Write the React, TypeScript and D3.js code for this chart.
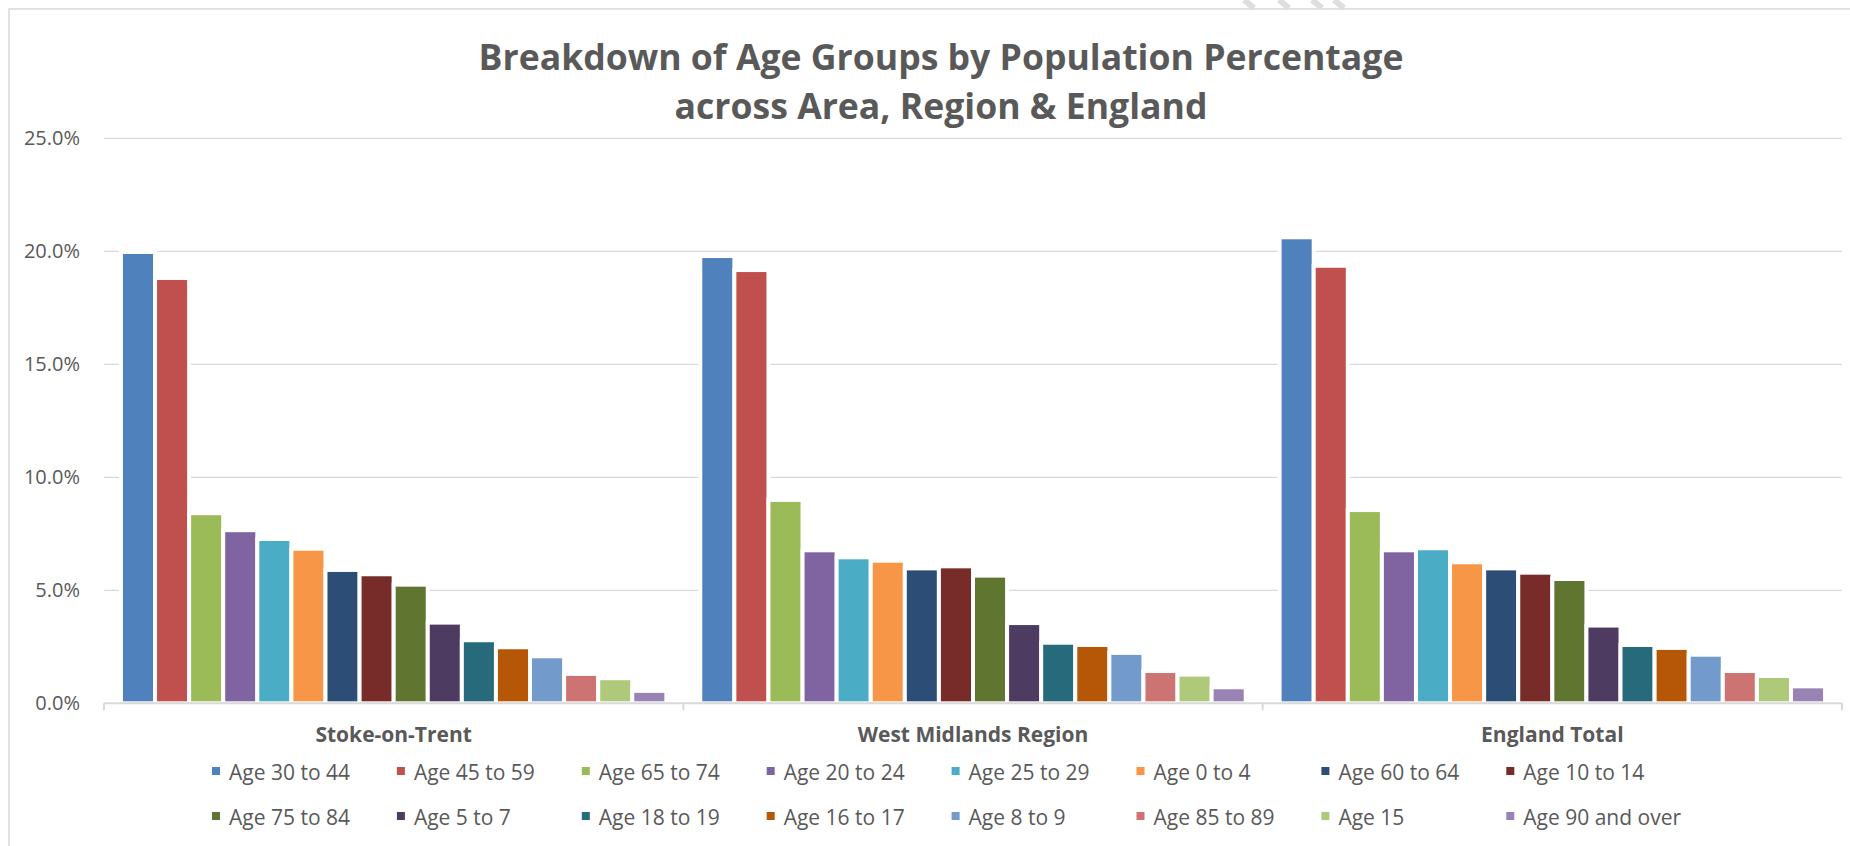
import { useRef, useEffect } from 'react';
import * as d3 from 'd3';

const FONT = '"Open Sans", "DejaVu Sans", sans-serif';
const TEXT = '#595959';
const GRID = '#d9d9d9';

const TITLE_LINES = [
  'Breakdown of Age Groups by Population Percentage',
  'across Area, Region & England',
];

const AREAS = ['Stoke-on-Trent', 'West Midlands Region', 'England Total'];

const SERIES = [
  'Age 30 to 44', 'Age 45 to 59', 'Age 65 to 74', 'Age 20 to 24',
  'Age 25 to 29', 'Age 0 to 4', 'Age 60 to 64', 'Age 10 to 14',
  'Age 75 to 84', 'Age 5 to 7', 'Age 18 to 19', 'Age 16 to 17',
  'Age 8 to 9', 'Age 85 to 89', 'Age 15', 'Age 90 and over',
];

const COLORS = [
  '#4f81bd', '#c0504d', '#9bbb59', '#8064a2',
  '#4bacc6', '#f79646', '#2c4d75', '#772c2a',
  '#5f7530', '#4d3b62', '#276a7c', '#b65708',
  '#729aca', '#cd7371', '#afc97a', '#9983b5',
];

// percent of population, one value per series (same order as SERIES)
const STOKE = [19.97, 18.82, 8.41, 7.66, 7.27, 6.84, 5.90, 5.71, 5.25, 3.57, 2.79, 2.48, 2.08, 1.30, 1.11, 0.55];
const WEST_MIDLANDS = [19.79, 19.17, 9.00, 6.77, 6.46, 6.31, 5.97, 6.06, 5.65, 3.55, 2.68, 2.58, 2.23, 1.43, 1.27, 0.71];
const ENGLAND = [20.62, 19.36, 8.55, 6.77, 6.86, 6.24, 5.97, 5.78, 5.50, 3.44, 2.58, 2.45, 2.15, 1.43, 1.21, 0.75];

const Y_TICKS = [0, 5, 10, 15, 20, 25];

export default function App() {
  const svgRef = useRef<SVGSVGElement>(null);

  useEffect(() => {
    document.body.style.margin = '0';
    const W = 1850;
    const H = 846;
    const svg = d3.select(svgRef.current);
    svg.selectAll('*').remove();
    svg.attr('width', W).attr('height', H);

    const values = [STOKE, WEST_MIDLANDS, ENGLAND];
    const plot = { left: 104, right: 1842, top: 138.3, bottom: 703.3 };

    // chart frame
    svg.append('rect')
      .attr('x', 9).attr('y', 9)
      .attr('width', W).attr('height', H)
      .attr('fill', '#fff')
      .attr('stroke', GRID).attr('stroke-width', 1.5);

    // faint watermark tips above the frame
    [1250, 1285, 1318, 1340].forEach(x => {
      svg.append('line')
        .attr('x1', x - 6).attr('y1', 0).attr('x2', x + 4).attr('y2', 8)
        .attr('stroke', '#dedede').attr('stroke-width', 6);
    });

    // title
    TITLE_LINES.forEach((t, i) => {
      svg.append('text')
        .attr('x', 941).attr('y', 70 + i * 49)
        .attr('text-anchor', 'middle')
        .attr('font-family', FONT)
        .attr('font-weight', 700)
        .attr('font-size', 35.6)
        .attr('fill', TEXT)
        .text(t);
    });

    const y = d3.scaleLinear().domain([0, 25]).range([plot.bottom, plot.top]);
    const x0 = d3.scaleBand().domain(AREAS).range([plot.left, plot.right]);
    const x1 = d3.scaleBand().domain(SERIES).range([0, x0.bandwidth()])
      .paddingInner(0).paddingOuter(0.497);

    // gridlines
    svg.append('g')
      .selectAll('line')
      .data(Y_TICKS.filter(d => d > 0))
      .join('line')
      .attr('x1', plot.left).attr('x2', plot.right)
      .attr('y1', d => y(d)).attr('y2', d => y(d))
      .attr('stroke', GRID).attr('stroke-width', 1.3);

    // y labels
    svg.append('g')
      .selectAll('text')
      .data(Y_TICKS)
      .join('text')
      .attr('x', 80)
      .attr('y', d => y(d))
      .attr('dy', '0.35em')
      .attr('text-anchor', 'end')
      .attr('font-family', FONT)
      .attr('font-size', 20)
      .attr('fill', TEXT)
      .text(d => d.toFixed(1) + '%');

    // bars
    AREAS.forEach((area, ai) => {
      const g = svg.append('g').attr('transform', `translate(${x0(area)},0)`);
      g.selectAll('rect')
        .data(SERIES.map((s, i) => ({ s, v: values[ai][i], c: COLORS[i] })))
        .join('rect')
        .attr('x', d => x1(d.s)!)
        .attr('y', d => y(d.v))
        .attr('width', x1.bandwidth())
        .attr('height', d => y(0) - y(d.v))
        .attr('fill', d => d.c)
        .attr('stroke', '#fff')
        .attr('stroke-width', 4);
    });

    // x axis
    svg.append('line')
      .attr('x1', plot.left).attr('x2', plot.right)
      .attr('y1', y(0)).attr('y2', y(0))
      .attr('stroke', GRID).attr('stroke-width', 2);
    const bounds = [...AREAS.map(a => x0(a)!), plot.right];
    svg.append('g')
      .selectAll('line')
      .data(bounds)
      .join('line')
      .attr('x1', d => d).attr('x2', d => d)
      .attr('y1', y(0)).attr('y2', y(0) + 7)
      .attr('stroke', GRID).attr('stroke-width', 2);

    // category labels
    svg.append('g')
      .selectAll('text')
      .data(AREAS)
      .join('text')
      .attr('x', d => x0(d)! + x0.bandwidth() / 2)
      .attr('y', 742)
      .attr('text-anchor', 'middle')
      .attr('font-family', FONT)
      .attr('font-weight', 700)
      .attr('font-size', 21)
      .attr('fill', TEXT)
      .text(d => d);

    // legend, two rows of eight
    const legend = svg.append('g');
    SERIES.forEach((s, i) => {
      const col = i % 8;
      const row = Math.floor(i / 8);
      const lx = 212 + col * 184.9;
      const ly = 767 + row * 45;
      legend.append('rect')
        .attr('x', lx).attr('y', ly)
        .attr('width', 8).attr('height', 8)
        .attr('fill', COLORS[i]);
      legend.append('text')
        .attr('x', lx + 17).attr('y', ly + 13)
        .attr('font-family', FONT)
        .attr('font-size', 21)
        .attr('fill', TEXT)
        .text(s);
    });
  }, []);

  return <svg ref={svgRef} style={{ display: 'block' }} />;
}
